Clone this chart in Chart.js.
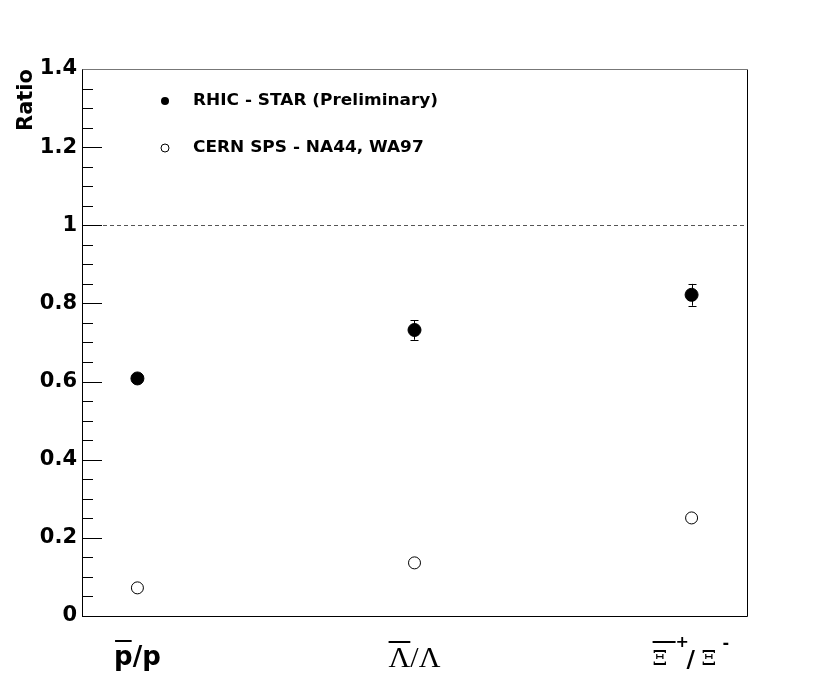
<!DOCTYPE html>
<html>
<head>
<meta charset="utf-8">
<script src="https://cdn.jsdelivr.net/npm/chart.js@4.4.0/dist/chart.umd.min.js"></script>
<style>
  html, body { margin: 0; padding: 0; background: #ffffff; }
  #wrap { width: 830px; height: 684px; }
</style>
</head>
<body>
<div id="wrap"><canvas id="c" width="830" height="684"></canvas></div>
<script>
// ---- data ----
const categories = ['p̄/p', 'Λ̄/Λ', 'Ξ̄⁺/Ξ⁻'];
const categoryIndex = [0, 1, 2];
const starValues = [0.608, 0.732, 0.822];
const starErrors = [0.008, 0.025, 0.028];
const spsValues = [0.072, 0.136, 0.251];
const seriesNames = ['RHIC - STAR (Preliminary)', 'CERN SPS - NA44, WA97'];
const yTickValues = [0, 0.2, 0.4, 0.6, 0.8, 1, 1.2, 1.4];
const referenceLine = 1;

const starPoints = categoryIndex.map((x, i) => ({ x: x, y: starValues[i] }));
const spsPoints = categoryIndex.map((x, i) => ({ x: x, y: spsValues[i] }));

const SANS_B = 'bold {s}px "DejaVu Sans"';
function f(tpl, s) { return tpl.replace('{s}', s); }

const framePlugin = {
  id: 'frame',
  beforeDatasetsDraw(chart) {
    const { ctx, chartArea: a, scales } = chart;
    const y = scales.y, x = scales.x;
    ctx.save();
    // dashed reference line
    ctx.strokeStyle = '#555';
    ctx.lineWidth = 1;
    ctx.setLineDash([4, 3]);
    const yr = Math.round(y.getPixelForValue(referenceLine)) + 0.5;
    ctx.beginPath(); ctx.moveTo(a.left, yr); ctx.lineTo(a.right, yr); ctx.stroke();
    ctx.setLineDash([]);
    // inward ticks on the y axis
    ctx.strokeStyle = '#000';
    for (let i = 0; i <= 28; i++) {
      const v = i * 0.05;
      const py = Math.round(y.getPixelForValue(v)) + 0.5;
      const len = (i % 4 === 0) ? 20 : 11;
      ctx.beginPath(); ctx.moveTo(a.left, py); ctx.lineTo(a.left + len, py); ctx.stroke();
    }
    // error bars
    ctx.lineWidth = 1;
    categoryIndex.forEach((c, i) => {
      const px = Math.round(x.getPixelForValue(c)) + 0.5;
      const top = y.getPixelForValue(starValues[i] + starErrors[i]);
      const bot = y.getPixelForValue(starValues[i] - starErrors[i]);
      ctx.beginPath(); ctx.moveTo(px, top); ctx.lineTo(px, bot); ctx.stroke();
      ctx.beginPath();
      ctx.moveTo(px - 4, Math.round(top) + 0.5); ctx.lineTo(px + 4, Math.round(top) + 0.5);
      ctx.moveTo(px - 4, Math.round(bot) + 0.5); ctx.lineTo(px + 4, Math.round(bot) + 0.5);
      ctx.stroke();
    });
    ctx.restore();
  },
  afterDraw(chart) {
    const { ctx, chartArea: a, scales } = chart;
    const x = scales.x;
    ctx.save();
    // frame
    ctx.lineWidth = 1;
    ctx.strokeStyle = '#000';
    ctx.beginPath();
    ctx.moveTo(Math.round(a.left) + 0.5, Math.round(a.top) + 0.5);
    ctx.lineTo(Math.round(a.left) + 0.5, Math.round(a.bottom) + 0.5);
    ctx.lineTo(Math.round(a.right) + 0.5, Math.round(a.bottom) + 0.5);
    ctx.lineTo(Math.round(a.right) + 0.5, Math.round(a.top) + 0.5);
    ctx.stroke();
    ctx.strokeStyle = '#777';
    ctx.beginPath();
    ctx.moveTo(Math.round(a.left) + 0.5, Math.round(a.top) + 0.5);
    ctx.lineTo(Math.round(a.right) + 0.5, Math.round(a.top) + 0.5);
    ctx.stroke();

    // legend
    const lx = a.left + 83, ty = [a.top + 32, a.top + 79];
    ctx.fillStyle = '#000';
    ctx.beginPath(); ctx.arc(lx, ty[0], 4, 0, Math.PI * 2); ctx.fill();
    ctx.beginPath(); ctx.arc(lx, ty[1], 4, 0, Math.PI * 2);
    ctx.fillStyle = '#fff'; ctx.fill(); ctx.strokeStyle = '#000'; ctx.stroke();
    ctx.fillStyle = '#000';
    ctx.font = f(SANS_B, 15);
    ctx.textBaseline = 'middle';
    ctx.textAlign = 'left';
    seriesNames.forEach((n, i) => {
      ctx.save();
      ctx.translate(a.left + 111, ty[i]);
      ctx.scale(1.13, 1.05);
      ctx.fillText(n, 0, 0);
      ctx.restore();
    });

    // category labels with overlines
    const base = a.bottom + 49;
    ctx.textBaseline = 'alphabetic';
    ctx.lineWidth = 2;
    // label 0 : p-bar / p
    {
      const cx = x.getPixelForValue(categoryIndex[0]);
      ctx.font = f(SANS_B, 26);
      const w = ctx.measureText('p/p').width;
      const wp = ctx.measureText('p').width;
      const sx = cx - w / 2;
      ctx.textAlign = 'left';
      ctx.fillText('p/p', sx, base);
      ctx.beginPath(); ctx.moveTo(sx + 1, base - 24); ctx.lineTo(sx + wp - 1, base - 24); ctx.stroke();
    }
    // label 1 : Lambda-bar / Lambda
    {
      const cx = x.getPixelForValue(categoryIndex[1]);
      ctx.font = '30px "Liberation Serif"';
      const w = ctx.measureText('Λ/Λ').width;
      const wl = ctx.measureText('Λ').width;
      const sx = cx - w / 2;
      ctx.fillText('Λ/Λ', sx, base + 2);
      ctx.beginPath(); ctx.moveTo(sx, base - 23); ctx.lineTo(sx + wl, base - 23); ctx.stroke();
    }
    // label 2 : Xi-bar+ / Xi-
    {
      const cx = x.getPixelForValue(categoryIndex[2]);
      ctx.font = '21px "DejaVu Serif"';
      ctx.fillText('Ξ', cx - 39, base);
      ctx.beginPath(); ctx.moveTo(cx - 39, base - 23); ctx.lineTo(cx - 16, base - 23); ctx.stroke();
      ctx.fillText('Ξ', cx + 10, base);
      ctx.font = f(SANS_B, 16);
      ctx.fillText('+', cx - 16, base - 18);
      ctx.fillText('-', cx + 31, base - 17);
      ctx.font = f(SANS_B, 23);
      ctx.fillText('/', cx - 5, base + 2);
    }
    ctx.restore();
  }
};

new Chart(document.getElementById('c'), {
  type: 'scatter',
  data: {
    datasets: [
      {
        label: seriesNames[0],
        data: starPoints,
        pointRadius: 6.5,
        pointHoverRadius: 6.5,
        pointBackgroundColor: '#000',
        pointBorderColor: '#000',
        pointBorderWidth: 1
      },
      {
        label: seriesNames[1],
        data: spsPoints,
        pointRadius: 6,
        pointHoverRadius: 6,
        pointBackgroundColor: '#fff',
        pointBorderColor: '#000',
        pointBorderWidth: 1
      }
    ]
  },
  options: {
    responsive: false,
    animation: false,
    events: [],
    layout: { padding: { left: 0, top: 69, right: 83, bottom: 68 } },
    plugins: { legend: { display: false }, tooltip: { enabled: false } },
    scales: {
      x: { type: 'linear', min: -0.2, max: 2.2, display: false },
      y: {
        type: 'linear',
        min: 0,
        max: 1.4,
        afterBuildTicks(scale) { scale.ticks = yTickValues.map(v => ({ value: v })); },
        afterFit(scale) { scale.width = 82; },
        grid: { display: false, drawTicks: false },
        border: { display: false },
        ticks: {
          padding: 5,
          color: '#000',
          font: { family: 'DejaVu Sans', weight: 'bold', size: 21 },
          callback: v => String(Math.round(v * 10) / 10)
        },
        title: {
          display: true,
          text: 'Ratio',
          align: 'end',
          color: '#000',
          font: { family: 'DejaVu Sans', weight: 'bold', size: 21 },
          padding: { top: 14, bottom: 0 }
        }
      }
    }
  },
  plugins: [framePlugin]
});
</script>
</body>
</html>
